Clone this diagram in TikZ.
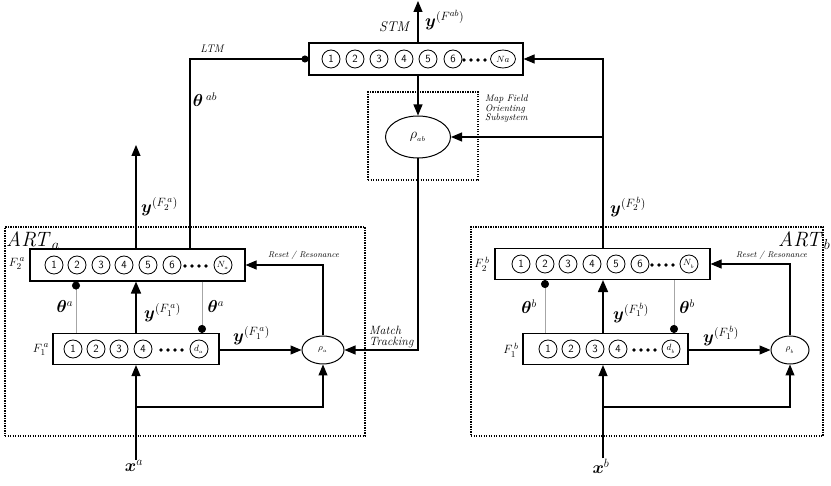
\documentclass[tikz,border=0pt]{standalone}
\usepackage{amsmath,amssymb,bm}
\usepackage{tikz}
\usetikzlibrary{arrows.meta, positioning, calc, shapes.geometric}

\begin{document}
\begin{tikzpicture}[x=1pt,y=-1pt,
  layer/.style={draw,line width=1.1pt,minimum height=31pt,inner sep=0pt},
  unit/.style={draw,circle,line width=0.8pt,minimum size=18pt,inner sep=0pt,
               font=\sffamily\fontsize{11}{12}\selectfont},
  rho/.style={draw,ellipse,line width=1pt,inner sep=0pt},
  frame/.style={draw,line width=1.2pt,dash pattern=on 1.2pt off 1.3pt,inner sep=0pt},
  wire/.style={line width=1.1pt},
  arr/.style={wire,-{Triangle[length=11pt,width=9pt]}},
  bigarr/.style={line width=1.7pt,-{Triangle[length=12pt,width=10pt]}},
  wgt/.style={draw=black!35,line width=0.6pt},
  lbl/.style={inner sep=0pt},
  vec/.style={inner sep=0pt,font=\fontsize{18}{20}\selectfont},
  note/.style={font=\fontsize{8.5}{9}\selectfont\itshape,inner sep=0pt,align=left}]
\useasboundingbox (0,0) rectangle (831,486);

% ===== Frames =====
\node[frame,minimum width=360pt,minimum height=209pt] (artA) at (185,331.5) {};
\node[frame,minimum width=352pt,minimum height=209pt] (artB) at (647,331.5) {};
\node[frame,minimum width=110pt,minimum height=88pt] (mapfield) at (423,136) {};
\node[lbl,anchor=west,font=\fontsize{20}{22}\selectfont] (artAlbl) at (6,241) {$\mathit{ART}_{a}$};
\node[lbl,anchor=west,font=\fontsize{20}{22}\selectfont] (artBlbl) at (778,241) {$\mathit{ART}_{b}$};
\node[lbl,anchor=north west,font=\fontsize{9.5}{8.5}\selectfont\itshape,align=left] (maplbl)
  at (485,95) {Map Field\\Orienting\\Subsystem};

% ===== Map field (STM) =====
\node[layer,minimum width=214pt,minimum height=32pt] (stm) at (416,59) {};
\foreach \i/\x in {1/331,2/355,3/379,4/404,5/428,6/453}
  \node[unit] (s\i) at (\x,59) {\i};
\foreach \x in {464,471,478,485} \fill (\x,60) circle (1.8);
\node[unit,ellipse,minimum width=25pt] (sN) at (503,59) {\small$Na$};
\node[rho,minimum width=65pt,minimum height=42pt] (rhoab) at (418,137)
  {\fontsize{15}{16}\selectfont$\rho_{_{ab}}$};
\coordinate (out) at (418,1);
\node[lbl,font=\fontsize{14}{16}\selectfont\itshape] (stmlbl) at (394,27) {STM};
\node[vec,anchor=west] (yab) at (425,20) {$\bm{y}^{(F^{ab})}$};
\node[lbl,font=\fontsize{11}{12}\selectfont\itshape] (ltmlbl) at (212,49) {LTM};
\node[lbl,font=\fontsize{16}{18}\selectfont] (thab) at (205,100) {$\bm{\theta}^{\;ab}$};

% ===== ART a =====
\node[layer,minimum width=215pt,minimum height=32pt] (F2a) at (137.5,265) {};
\foreach \i/\x in {1/54,2/77,3/101,4/124,5/148,6/172}
  \node[unit] (a2\i) at (\x,265) {\i};
\foreach \x in {185,192,199,206} \fill (\x,266) circle (1.8);
\node[unit] (a2N) at (223,265) {\small$N_{_a}$};
\node[layer,minimum width=166pt] (F1a) at (136,349) {};
\foreach \i/\x in {1/73,2/96,3/119,4/143}
  \node[unit] (a1\i) at (\x,349) {\i};
\foreach \x in {161,168,175,182} \fill (\x,350) circle (1.8);
\node[unit] (a1d) at (199,349) {\small$d_{_a}$};
\node[rho,minimum width=42pt,minimum height=28pt] (rhoa) at (323,350) {\small$\rho_{_a}$};
\node[lbl,font=\fontsize{13}{14}\selectfont] (F2albl) at (17,264) {$F_2^{\,a}$};
\node[lbl,font=\fontsize{13}{14}\selectfont] (F1albl) at (41,350) {$F_1^{\,a}$};
\node[vec] (xa) at (134,466) {$\bm{x}^{a}$};
\coordinate (outa) at (136,145);
\coordinate (ba) at (136,407);
\node[vec,anchor=west] (yF2a) at (141,207) {$\bm{y}^{(F_2^{\,a})}$};
\node[vec,anchor=west] (yF1a) at (144,313) {$\bm{y}^{(F_1^{\,a})}$};
\node[vec,anchor=west] (yF1ar) at (233,336) {$\bm{y}^{(F_1^{\,a})}$};
\node[lbl,font=\fontsize{16}{18}\selectfont] (tha1) at (65,307) {$\bm{\theta}^{a}$};
\node[lbl,font=\fontsize{16}{18}\selectfont] (tha2) at (216,307) {$\bm{\theta}^{a}$};
\node[note,anchor=west] (reseta) at (268,255) {Reset / Resonance};
\node[lbl,anchor=south west,font=\fontsize{12}{11}\selectfont\itshape,align=left] (match)
  at (369,348) {Match\\Tracking};

% ===== ART b =====
\node[layer,minimum width=215pt] (F2b) at (602.5,264) {};
\foreach \i/\x in {1/521,2/545,3/568,4/592,5/616,6/640}
  \node[unit] (b2\i) at (\x,264) {\i};
\foreach \x in {652,659,666,673} \fill (\x,265) circle (1.8);
\node[unit] (b2N) at (689,264) {\small$N_{_b}$};
\node[layer,minimum width=165pt] (F1b) at (605.5,349) {};
\foreach \i/\x in {1/548,2/571,3/595,4/618}
  \node[unit] (b1\i) at (\x,349) {\i};
\foreach \x in {634,641,648,655} \fill (\x,350) circle (1.8);
\node[unit] (b1d) at (671,349) {\small$d_{_b}$};
\node[rho,minimum width=38pt,minimum height=28pt] (rhob) at (790,350) {\small$\rho_{_b}$};
\node[lbl,font=\fontsize{13}{14}\selectfont] (F2blbl) at (482,264) {$F_2^{\,b}$};
\node[lbl,font=\fontsize{13}{14}\selectfont] (F1blbl) at (511,350) {$F_1^{\,b}$};
\node[vec] (xb) at (601,466) {$\bm{x}^{b}$};
\coordinate (bb) at (603,407);
\coordinate (upb) at (603,59);
\coordinate (brb) at (603,137);
\node[vec,anchor=west] (yF2b) at (610,207) {$\bm{y}^{(F_2^{\,b})}$};
\node[vec,anchor=west] (yF1b) at (613,313) {$\bm{y}^{(F_1^{\,b})}$};
\node[vec,anchor=west] (yF1br) at (703,336) {$\bm{y}^{(F_1^{\,b})}$};
\node[lbl,font=\fontsize{16}{18}\selectfont] (thb1) at (529,307) {$\bm{\theta}^{b}$};
\node[lbl,font=\fontsize{16}{18}\selectfont] (thb2) at (687,307) {$\bm{\theta}^{b}$};
\node[note,anchor=west] (resetb) at (736,255) {Reset / Resonance};

% ===== Connectors, map field =====
\draw[arr] (stm.north -| out) -- (out);
\draw[arr] (stm.south -| rhoab) -- (rhoab.north);
\draw[wire,-{Circle[length=7pt]}] (F2a.north -| 190,0) |- (stm.west);
\draw[arr] (rhoab.south) |- (rhoa.east);
\draw[arr] (F2b.north -| upb) -- (upb) -- (stm.east |- upb);
\draw[arr] (brb) -- (rhoab.east);

% ===== Connectors, ART a =====
\draw[arr] (F2a.north -| outa) -- (outa);
\draw[bigarr] (F1a.north -| outa) -- (F2a.south -| outa);
\draw[arr] (xa.north -| ba) -- (F1a.south -| ba);
\draw[arr] (ba) -| (rhoa.south);
\draw[arr] (F1a.east |- rhoa) -- (rhoa.west);
\draw[arr] (rhoa.north) |- (F2a.east);
\draw[wgt,-{Circle[length=8pt,color=black]}] (F1a.north -| 76,0) -- (F2a.south -| 76,0);
\draw[wgt,-{Circle[length=8pt,color=black]}] (F2a.south -| 202,0) -- (F1a.north -| 202,0);

% ===== Connectors, ART b =====
\draw[bigarr] (F1b.north -| bb) -- (F2b.south -| bb);
\draw[arr] (xb.north -| bb) -- (F1b.south -| bb);
\draw[arr] (bb) -| (rhob.south);
\draw[arr] (F1b.east |- rhob) -- (rhob.west);
\draw[arr] (rhob.north) |- (F2b.east);
\draw[wgt,-{Circle[length=8pt,color=black]}] (F1b.north -| 545,0) -- (F2b.south -| 545,0);
\draw[wgt,-{Circle[length=8pt,color=black]}] (F2b.south -| 674,0) -- (F1b.north -| 674,0);
\end{tikzpicture}
\end{document}
